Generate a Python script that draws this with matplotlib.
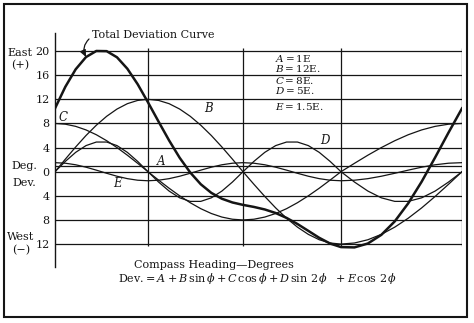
import numpy as np
import matplotlib.pyplot as plt
from matplotlib.patches import Rectangle

W, H = 474, 323

# compass heading in degrees
heading = list(range(0, 361, 10))

A = 1.0
B_sin = [0, 2.08, 4.10, 6.00, 7.71, 9.19, 10.39, 11.28, 11.82, 12.00,
         11.82, 11.28, 10.39, 9.19, 7.71, 6.00, 4.10, 2.08, 0,
         -2.08, -4.10, -6.00, -7.71, -9.19, -10.39, -11.28, -11.82, -12.00,
         -11.82, -11.28, -10.39, -9.19, -7.71, -6.00, -4.10, -2.08, 0]
C_cos = [8, 7.88, 7.52, 6.93, 6.13, 5.14, 4.00, 2.74, 1.39, 0,
         -1.39, -2.74, -4.00, -5.14, -6.13, -6.93, -7.52, -7.88, -8,
         -7.88, -7.52, -6.93, -6.13, -5.14, -4.00, -2.74, -1.39, 0,
         1.39, 2.74, 4.00, 5.14, 6.13, 6.93, 7.52, 7.88, 8]
D_sin2 = [0, 1.71, 3.21, 4.33, 4.92, 4.92, 4.33, 3.21, 1.71, 0,
          -1.71, -3.21, -4.33, -4.92, -4.92, -4.33, -3.21, -1.71, 0,
          1.71, 3.21, 4.33, 4.92, 4.92, 4.33, 3.21, 1.71, 0,
          -1.71, -3.21, -4.33, -4.92, -4.92, -4.33, -3.21, -1.71, 0]
E_cos2 = [1.5, 1.41, 1.15, 0.75, 0.26, -0.26, -0.75, -1.15, -1.41, -1.5,
          -1.41, -1.15, -0.75, -0.26, 0.26, 0.75, 1.15, 1.41, 1.5,
          1.41, 1.15, 0.75, 0.26, -0.26, -0.75, -1.15, -1.41, -1.5,
          -1.41, -1.15, -0.75, -0.26, 0.26, 0.75, 1.15, 1.41, 1.5]
total = [10.5, 14.08, 16.98, 19.01, 20.02, 19.99, 18.97, 17.08, 14.51, 11.5,
         8.31, 5.18, 2.31, -0.13, -2.08, -3.51, -4.48, -5.10, -5.5,
         -5.84, -6.26, -6.85, -7.66, -8.67, -9.81, -10.96, -11.91, -12.5,
         -12.55, -11.9, -10.47, -8.23, -5.24, -1.65, 2.36, 6.5, 10.5]

y_ticks = [20, 16, 12, 8, 4, 0, -4, -8, -12]
y_labels = ["20", "16", "12", "8", "4", "0", "4", "8", "12"]

# the printed chart is not evenly spaced along the heading axis
knots_deg = [0, 90, 180, 270, 360]
knots_pix = [55, 148, 243, 341, 462]


def fwd(x):
    x = np.asarray(x, dtype=float)
    y = np.interp(x, knots_deg, knots_pix)
    y = np.where(x < 0, 55 + x * 93 / 90, y)
    y = np.where(x > 360, 462 + (x - 360) * 121 / 90, y)
    return y


def inv(p):
    p = np.asarray(p, dtype=float)
    x = np.interp(p, knots_pix, knots_deg)
    x = np.where(p < 55, (p - 55) * 90 / 93, x)
    x = np.where(p > 462, 360 + (p - 462) * 90 / 121, x)
    return x


def fp(x, y):
    # pixel position (from top-left) -> figure fraction
    return x / W, 1 - y / H


ink = "#151515"
plt.rcParams['font.family'] = 'DejaVu Serif'
plt.rcParams['mathtext.fontset'] = 'dejavuserif'

fig = plt.figure(figsize=(4.74, 3.23), dpi=100)
ax = fig.add_axes([55 / W, (H - 267) / H, (462 - 55) / W, (267 - 33) / H])
ax.set_xscale('function', functions=(fwd, inv))
ax.set_xlim(0, 360)
ax.set_ylim(-15.8, 23.0)

for s in ['top', 'right', 'bottom']:
    ax.spines[s].set_visible(False)
ax.spines['left'].set_color(ink)
ax.spines['left'].set_linewidth(1.0)
ax.set_xticks([])
ax.set_yticks(y_ticks)
ax.set_yticklabels(y_labels, fontsize=8, color=ink)
ax.tick_params(axis='y', length=0, pad=4)

# grid
ax.hlines(y_ticks, 0, 360, color=ink, lw=0.9)
ax.vlines([90, 180, 270, 360], -12.4, 20.5, color=ink, lw=0.9)

# component curves
ax.plot(heading, [A] * len(heading), color=ink, lw=0.9)
ax.plot(heading, B_sin, color=ink, lw=0.9)
ax.plot(heading, C_cos, color=ink, lw=0.9)
ax.plot(heading, D_sin2, color=ink, lw=0.9)
ax.plot(heading, E_cos2, color=ink, lw=0.9)
ax.plot(heading, total, color=ink, lw=1.8)

# curve letters
for lab, x, y in [("C", 3, 9.0), ("B", 143, 10.5), ("D", 251, 5.1),
                  ("A", 98, 1.7), ("E", 56, -1.9)]:
    ax.text(x, y, lab, fontsize=8.5, style='italic', color=ink,
            ha='left', va='center')

# constants
consts = [(r"$A{=}$1E", 58), (r"$B{=}$12E.", 68), (r"$C{=}$8E.", 81),
          (r"$D{=}$5E.", 91), (r"$E{=}$1.5E.", 106)]
for txt, y in consts:
    fig.text(*fp(275, y), txt, fontsize=7.5, color=ink, ha='left', va='center')

# left side labels
for txt, x, y in [("East", 20, 53), ("(+)", 20, 65), ("Deg.", 24, 166),
                  ("Dev.", 24, 183), ("West", 21, 237), ("(\u2212)", 21, 250)]:
    fig.text(*fp(x, y), txt, fontsize=8, color=ink, ha='center', va='center')

fig.text(*fp(92, 35), "Total Deviation Curve", fontsize=8, color=ink,
         ha='left', va='center')
ax.annotate('', xy=fp(86, 57), xycoords='figure fraction',
            xytext=fp(89, 39), textcoords='figure fraction',
            arrowprops=dict(arrowstyle='-|>,head_length=0.4,head_width=0.18',
                            connectionstyle='arc3,rad=0.35', color=ink, lw=0.9,
                            shrinkA=0, shrinkB=0))

fig.text(*fp(214, 265), "Compass Heading\u2014Degrees", fontsize=8,
         color=ink, ha='center', va='center')
fig.text(*fp(258, 279),
         r"Dev.$=A+B\,\sin\phi+C\,\cos\phi+D\,\sin\,2\,\phi\ \ +E\,\cos\,2\,\phi$",
         fontsize=8, color=ink, ha='center', va='center')

# outer frame
fig.patches.append(Rectangle(fp(4, 317), 463 / W, 313 / H, transform=fig.transFigure,
                             fill=False, edgecolor=ink, lw=1.5))

fig.savefig("out.png", dpi=100)
